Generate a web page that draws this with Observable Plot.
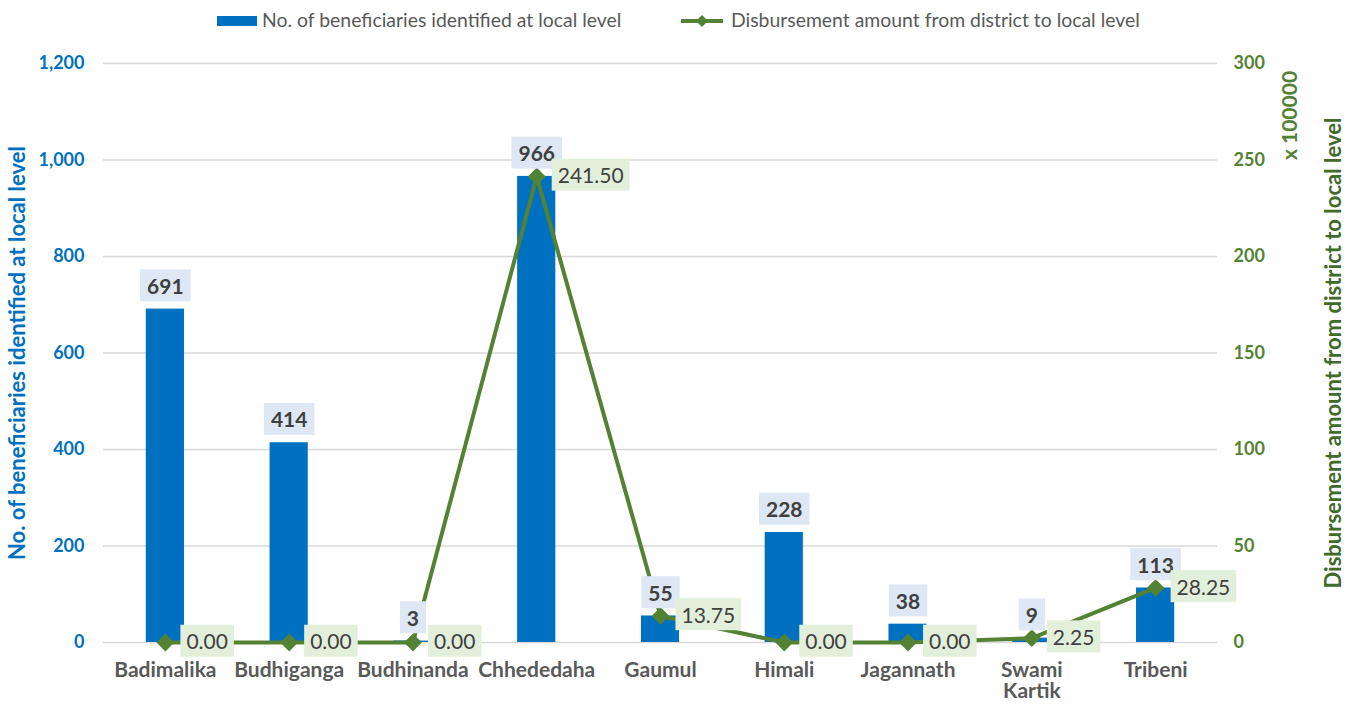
<!DOCTYPE html>
<html>
<head>
<meta charset="utf-8">
<script src="https://cdn.jsdelivr.net/npm/d3@7"></script>
<script src="https://cdn.jsdelivr.net/npm/@observablehq/plot@0.6"></script>
<style>
  html, body { margin: 0; padding: 0; background: #fff; }
  #wrap { position: relative; width: 1362px; height: 704px; font-family: Lato, sans-serif; }
  .leg { position: absolute; top: 9px; font-size: 19.4px; color: #595959; line-height: 22px; white-space: nowrap; }
</style>
</head>
<body>
<div id="wrap"></div>
<script>
// ---- data ----
const categories = ["Badimalika", "Budhiganga", "Budhinanda", "Chhededaha", "Gaumul", "Himali", "Jagannath", "Swami Kartik", "Tribeni"];
const beneficiaries = [691, 414, 3, 966, 55, 228, 38, 9, 113];
const disbursement = [0, 0, 0, 241.5, 13.75, 0, 0, 2.25, 28.25];
const leftTicks = [0, 200, 400, 600, 800, 1000, 1200];
const rightTicks = [0, 50, 100, 150, 200, 250, 300];
const seriesNames = ["No. of beneficiaries identified at local level", "Disbursement amount from district to local level"];
const leftTitle = "No. of beneficiaries identified at local level";
const rightTitle = "Disbursement amount from district to local level";
const rightUnit = "x 100000";

const BLUE = "#0070c0", GREEN = "#548235";
const ratio = leftTicks[leftTicks.length - 1] / rightTicks[rightTicks.length - 1];
const data = categories.map((c, i) => ({cat: c, n: beneficiaries[i], d: disbursement[i]}));

const tag = cls => (index, scales, values, dims, ctx, next) => {
  const g = next(index, scales, values, dims, ctx);
  if (g) g.setAttribute("class", cls);
  return g;
};

const chart = Plot.plot({
  width: 1362, height: 704,
  marginLeft: 103, marginRight: 145, marginTop: 63, marginBottom: 62,
  style: {fontFamily: "Lato, sans-serif", background: "transparent", overflow: "visible"},
  x: {domain: categories, padding: 0, round: false, label: null},
  y: {domain: [0, 1200], label: null},
  marks: [
    Plot.gridY(leftTicks, {stroke: "#d9d9d9", strokeOpacity: 1, strokeWidth: 1.3}),
    Plot.barY(data, {x: "cat", y: "n", fill: BLUE, insetLeft: 42.8, insetRight: 42.8}),
    Plot.line(data, {x: "cat", y: d => d.d * ratio, stroke: GREEN, strokeWidth: 4}),
    Plot.dot(data, {x: "cat", y: d => d.d * ratio, symbol: "diamond2", r: 8, fill: GREEN, stroke: null}),
    Plot.text(data, {x: "cat", y: "n", text: d => String(d.n), dy: -22, lineAnchor: "middle",
      fontWeight: "bold", fontSize: 21, fill: "#404040", render: tag("bar-label")}),
    Plot.text(data, {x: "cat", y: d => d.d * ratio, text: d => d.d.toFixed(2), dx: 21, textAnchor: "start",
      lineAnchor: "middle", fontSize: 21, fill: "#404040", render: tag("line-label")}),
    Plot.axisY(leftTicks, {anchor: "left", tickSize: 0, tickPadding: 19, tickFormat: d3.format(","),
      fill: BLUE, fontWeight: "bold", fontSize: 18, label: null}),
    Plot.axisY(rightTicks.map(t => t * ratio), {anchor: "right", tickSize: 0, tickPadding: 16,
      tickFormat: d => String(d / ratio), fill: GREEN, fontWeight: "bold", fontSize: 18, label: null}),
    Plot.axisX({tickSize: 0, tickPadding: 20, fontWeight: "bold", fill: "#595959", fontSize: 21,
      tickFormat: d => d.replace(" ", "\n"), label: null}),
    Plot.text([leftTitle], {frameAnchor: "left", dx: -86, rotate: -90, textAnchor: "middle", lineAnchor: "middle",
      fill: BLUE, fontWeight: "bold", fontSize: 22}),
    Plot.text([rightTitle], {frameAnchor: "right", dx: 116, rotate: -90, textAnchor: "middle", lineAnchor: "middle",
      fill: "#3f6a2a", fontWeight: "bold", fontSize: 22}),
    Plot.text([rightUnit], {frameAnchor: "top-right", dx: 73, dy: 52, rotate: -90, textAnchor: "middle", lineAnchor: "middle",
      fill: GREEN, fontWeight: "bold", fontSize: 21})
  ]
});

const wrap = document.getElementById("wrap");
wrap.appendChild(chart);

// label backgrounds, sized from the rendered text
function addBoxes(cls, color, padX) {
  chart.querySelectorAll("g." + cls + " text").forEach(t => {
    const b = t.getBBox();
    const r = document.createElementNS("http://www.w3.org/2000/svg", "rect");
    const h = 32;
    r.setAttribute("x", b.x - padX);
    r.setAttribute("y", b.y + b.height / 2 - h / 2);
    r.setAttribute("width", b.width + 2 * padX);
    r.setAttribute("height", h);
    r.setAttribute("fill", color);
    if (t.getAttribute("transform")) r.setAttribute("transform", t.getAttribute("transform"));
    t.parentNode.insertBefore(r, t);
  });
}
addBoxes("bar-label", "#dde8f4", 7);
addBoxes("line-label", "#e2efda", 6);

// legend
const leg1 = document.createElement("div");
leg1.className = "leg";
leg1.style.left = "217px";
leg1.innerHTML = `<span style="display:inline-block;width:40px;height:10px;background:${BLUE};vertical-align:middle;margin-right:5px;position:relative;top:-1px"></span>${seriesNames[0]}`;
wrap.appendChild(leg1);
const leg2 = document.createElement("div");
leg2.className = "leg";
leg2.style.left = "680px";
leg2.innerHTML = `<svg width="44" height="14" style="vertical-align:middle;margin-right:7px;position:relative;top:-1px"><line x1="1" y1="7" x2="43" y2="7" stroke="${GREEN}" stroke-width="4"/><path d="M22 1 L28 7 L22 13 L16 7 Z" fill="${GREEN}"/></svg>${seriesNames[1]}`;
wrap.appendChild(leg2);
</script>
</body>
</html>
